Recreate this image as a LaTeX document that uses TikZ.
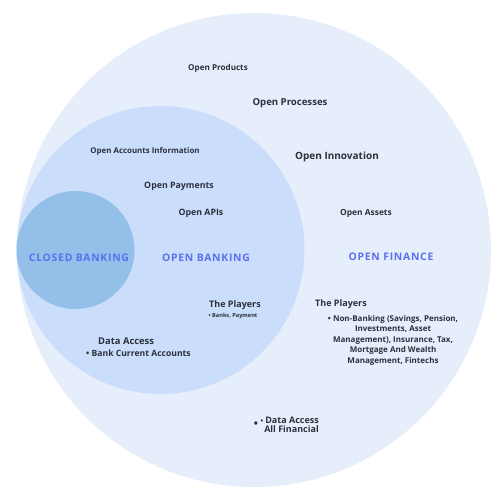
\documentclass[tikz,border=0pt]{standalone}
\usepackage{fontspec}
\setmainfont{Open Sans}
\newfontfamily\capsfont{Open Sans}[LetterSpace=7]
\definecolor{outerc}{HTML}{E6EEFC}
\definecolor{midc}{HTML}{CADEFB}
\definecolor{innerc}{HTML}{93BFE8}
\definecolor{darktext}{HTML}{2B303D}
\definecolor{bluetext}{HTML}{5B70F0}
\begin{document}
\begin{tikzpicture}[x=1pt,y=-1pt,
  lbl/.style={font=\bfseries, text=darktext, inner sep=0pt},
  capslbl/.style={font=\capsfont\bfseries\fontsize{10.4}{12}\selectfont, text=bluetext, inner sep=0pt}]
\useasboundingbox (0,0) rectangle (500,500);
\fill[white] (0,0) rectangle (500,500);
\fill[outerc] (254,250) circle (237pt);
\fill[midc] (160.5,250) circle (144pt);
\fill[innerc] (75.5,250) circle (59pt);

\node[lbl, font=\bfseries\fontsize{8.1}{9}\selectfont] (products) at (218,68) {Open Products};
\node[lbl, font=\bfseries\fontsize{9.6}{11}\selectfont] (processes) at (290,103) {Open Processes};
\node[lbl, font=\bfseries\fontsize{7.9}{9}\selectfont] (accounts) at (145,151) {Open Accounts Information};
\node[lbl, font=\bfseries\fontsize{10}{11}\selectfont] (innovation) at (337,157) {Open Innovation};
\node[lbl, font=\bfseries\fontsize{8.8}{11}\selectfont] (payments) at (179,186) {Open Payments};
\node[lbl, font=\bfseries\fontsize{8.8}{11}\selectfont] (apis) at (201,213) {Open APIs};
\node[lbl, font=\bfseries\fontsize{8.4}{11}\selectfont] (assets) at (366,213) {Open Assets};

\node[capslbl] (closed) at (79,258) {CLOSED BANKING};
\node[capslbl] (openb) at (206,258) {OPEN BANKING};
\node[capslbl] (openf) at (391,257) {OPEN FINANCE};

\node[lbl, font=\bfseries\fontsize{9}{11}\selectfont] (players1) at (235,305) {The Players};
\node[lbl, font=\bfseries\fontsize{5.6}{7}\selectfont] (banks) at (233,316) {• Banks, Payment};

\node[lbl, font=\bfseries\fontsize{9}{11}\selectfont] (players2) at (341,304) {The Players};
\node[lbl, font=\bfseries\fontsize{8}{10.5}\selectfont, align=center, anchor=north] (nonbank) at (393,315)
  {• Non-Banking (Savings, Pension,\\Investments, Asset\\Management), Insurance, Tax,\\Mortgage And Wealth\\Management, Fintechs};

\node[lbl, font=\bfseries\fontsize{9.4}{11}\selectfont, anchor=west] (data1) at (98,341) {Data Access};
\node[lbl, font=\bfseries\fontsize{8.6}{11}\selectfont, anchor=west] (bankcur) at (86,353) {• Bank Current Accounts};

\node[lbl, font=\bfseries\fontsize{9}{11}\selectfont, anchor=east] (data2) at (319,420) {Data Access};
\node[lbl, font=\bfseries\fontsize{9}{11}\selectfont, anchor=east] (allfin) at (319,429) {All Financial};
\node[lbl, font=\bfseries\fontsize{11}{11}\selectfont] (dotbig) at (256,425) {•};
\node[lbl, font=\bfseries\fontsize{7}{7}\selectfont] (dotsmall) at (262,422) {•};
\end{tikzpicture}
\end{document}
